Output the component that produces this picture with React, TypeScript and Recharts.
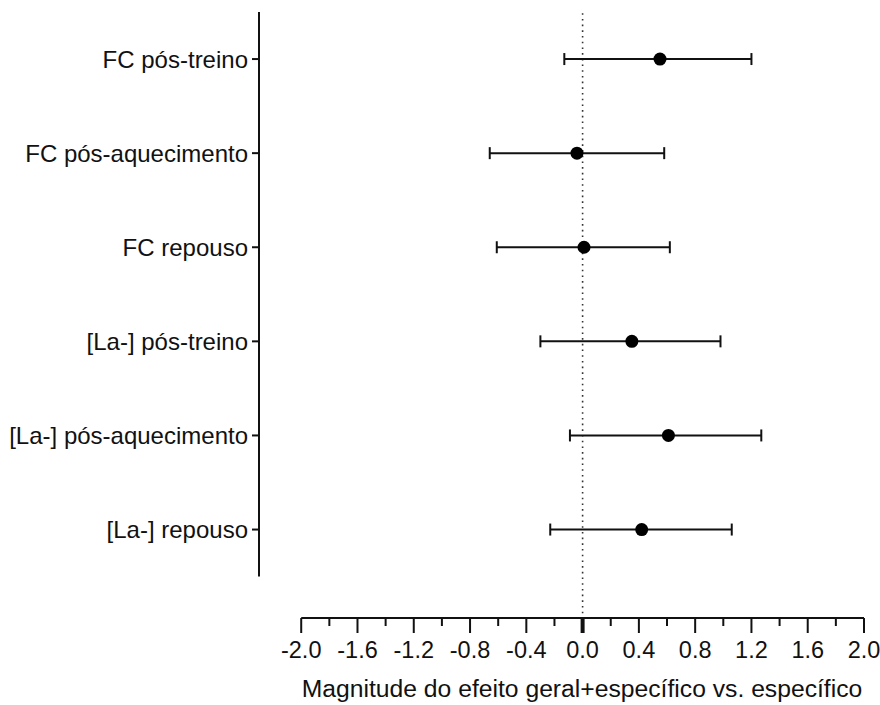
import { ScatterChart, Scatter, XAxis, YAxis, ErrorBar, ReferenceLine } from "recharts";

// rows, bottom (1) to top (6)
const ROW_LABELS = [
  "[La-] repouso",
  "[La-] pós-aquecimento",
  "[La-] pós-treino",
  "FC repouso",
  "FC pós-aquecimento",
  "FC pós-treino",
];
const ROW_POS = [1, 2, 3, 4, 5, 6];
const EFFECT = [0.42, 0.61, 0.35, 0.01, -0.04, 0.55];
const CI_LOW = [-0.23, -0.09, -0.3, -0.61, -0.66, -0.13];
const CI_HIGH = [1.06, 1.27, 0.98, 0.62, 0.58, 1.2];

const X_TICKS = [
  -2.0, -1.8, -1.6, -1.4, -1.2, -1.0, -0.8, -0.6, -0.4, -0.2, 0,
  0.2, 0.4, 0.6, 0.8, 1.0, 1.2, 1.4, 1.6, 1.8, 2.0,
];
const X_MAJOR = [-2.0, -1.6, -1.2, -0.8, -0.4, 0, 0.4, 0.8, 1.2, 1.6, 2.0];
const X_TITLE = "Magnitude do efeito geral+específico vs. específico";

const FONT = "'Liberation Sans', Arial, sans-serif";
const INK = "#111";
const Y_MIN = 0.06;

const data = ROW_POS.map((pos, i) => ({
  row: pos,
  effect: EFFECT[i],
  ci: [EFFECT[i] - CI_LOW[i], CI_HIGH[i] - EFFECT[i]],
}));

function XTick(props: any) {
  const { x, y, payload } = props;
  const v = payload.value;
  const major = X_MAJOR.some((m) => Math.abs(m - v) < 1e-6);
  return (
    <g>
      <line
        x1={x}
        x2={x}
        y1={y}
        y2={y + (major ? 15 : 8)}
        stroke={INK}
        strokeWidth={Math.abs(v) < 1e-6 ? 4 : 2}
      />
      {major && (
        <text x={x} y={y + 40} textAnchor="middle" fontSize={23.5} fill={INK} fontFamily={FONT}>
          {v.toFixed(1)}
        </text>
      )}
    </g>
  );
}

export default function App() {
  return (
    <div style={{ position: "absolute", left: 0, top: 0, fontFamily: FONT }}>
      <ScatterChart width={880} height={705} margin={{ top: 12, right: 16, left: 0, bottom: 0 }}>
        <XAxis
          type="number"
          dataKey="effect"
          domain={[-2.3, 2]}
          allowDataOverflow
          ticks={X_TICKS}
          interval={0}
          axisLine={false}
          tickLine={false}
          tickSize={0}
          tickMargin={0}
          height={87}
          tick={<XTick />}
          label={{
            content: () => (
              <text x={582} y={697} textAnchor="middle" fontSize={24.7} fill={INK} fontFamily={FONT}>
                {X_TITLE}
              </text>
            ),
          }}
        />
        <YAxis
          type="number"
          dataKey="row"
          domain={[Y_MIN, 6.5]}
          allowDataOverflow
          ticks={ROW_POS}
          interval={0}
          width={259}
          axisLine={false}
          tickLine={{ stroke: INK, strokeWidth: 2 }}
          tickSize={7}
          tickMargin={4}
          tick={{ fill: INK, fontSize: 24, fontFamily: FONT }}
          tickFormatter={(v: number) => ROW_LABELS[v - 1]}
        />
        <ReferenceLine
          segment={[{ x: 0, y: 0.11 }, { x: 0, y: 6.5 }]}
          stroke="#333"
          strokeWidth={1.6}
          strokeDasharray="1.6 4.1"
        />
        <ReferenceLine
          segment={[{ x: -2.3, y: 0.5 }, { x: -2.3, y: 6.5 }]}
          stroke={INK}
          strokeWidth={2}
        />
        <ReferenceLine
          segment={[{ x: -2, y: Y_MIN }, { x: 2, y: Y_MIN }]}
          stroke={INK}
          strokeWidth={2}
        />
        <Scatter
          data={data}
          isAnimationActive={false}
          shape={(p: any) => <circle cx={p.cx} cy={p.cy} r={6.5} fill="#000" />}
        >
          <ErrorBar dataKey="ci" direction="x" width={6} stroke={INK} strokeWidth={2} />
        </Scatter>
      </ScatterChart>
    </div>
  );
}
